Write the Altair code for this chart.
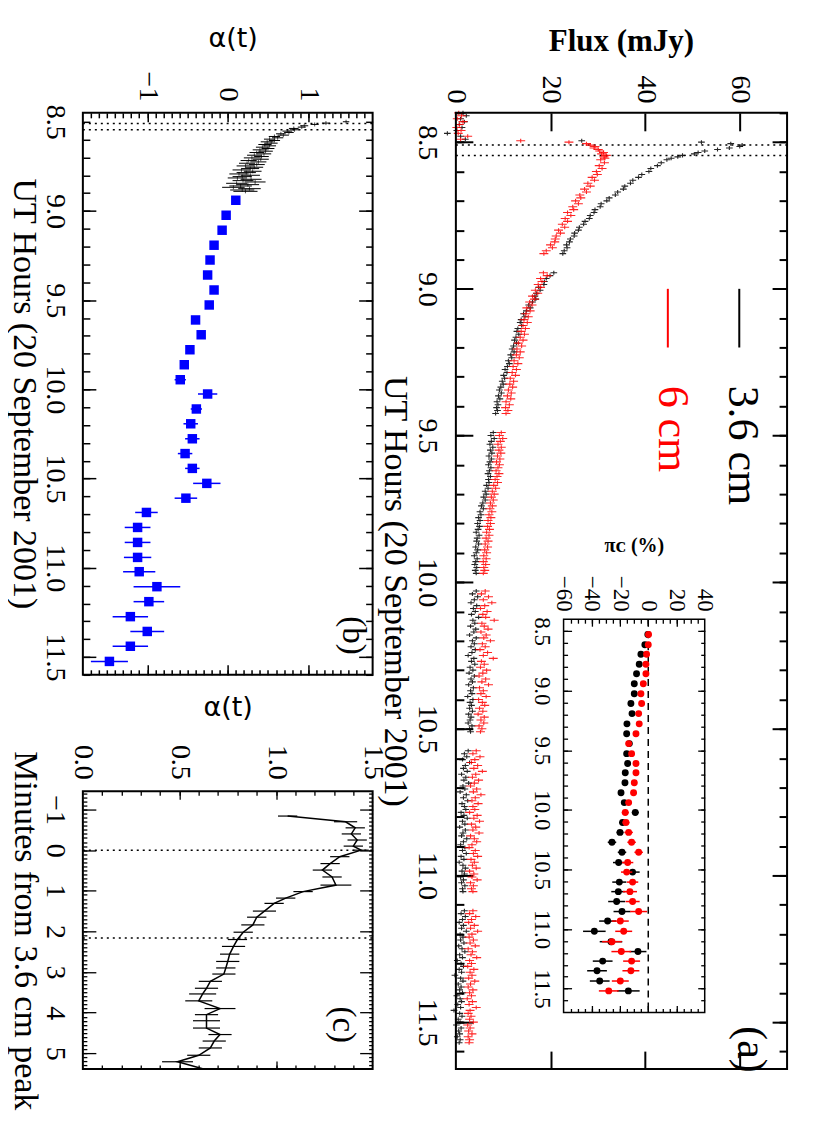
import altair as alt
import pandas as pd

# ======================= DATA =======================
# (a) flux-density light curves (mJy); the quiet segments are sampled every CADENCE hours
CADENCE = 0.01
pre_start = 8.40
flux36_pre = [1.5, 2.2, 1.0, 1.8, 0.7, 1.3, 0.2, -1.8, 1.0]
flux6_pre = [0.6, 1.2, 0.3, 1.5, 0.8, 0.2, 1.1, 0.5, 2.5]

burst_times = [8.490, 8.495, 8.500, 8.505, 8.510, 8.515, 8.520, 8.525, 8.530, 8.535,
               8.540, 8.545, 8.550, 8.555, 8.560, 8.57, 8.58, 8.59, 8.60, 8.61,
               8.62, 8.63, 8.64, 8.65, 8.66, 8.67, 8.68, 8.69, 8.70, 8.71,
               8.72, 8.73, 8.74, 8.75, 8.76, 8.77, 8.78, 8.79, 8.80, 8.81,
               8.82, 8.83, 8.84, 8.85, 8.86, 8.87, 8.88]
flux36_burst = [2.0, 26.6, 51.9, 58.1, 60.5, 60.0, 57.8, 55.3, 52.6, 51.2, 50.4, 47.9, 46.9, 45.5, 44.6,
                43.4, 42.6, 41.2, 40.8, 39.3, 38.6, 37.4, 36.9, 35.7, 35.4, 34.2, 33.7, 32.4, 31.9, 30.7,
                30.5, 29.4, 29.2, 28.4, 28.2, 27.3, 27.0, 26.1, 25.9, 25.1, 25.0, 24.2, 24.0, 23.4, 23.5,
                22.9, 22.6]
flux6_burst = [1.0, 13.7, 23.9, 27.6, 28.4, 29.4, 29.2, 30.1, 30.4, 31.2, 30.8, 31.8, 31.3, 31.5, 30.6,
               31.4, 30.3, 30.9, 29.7, 29.9, 28.8, 29.3, 27.9, 28.4, 27.2, 27.6, 26.2, 26.4, 25.3, 25.9,
               24.7, 24.9, 23.6, 24.3, 23.1, 23.6, 22.5, 23.0, 21.7, 22.1, 21.2, 21.0, 20.9, 20.0, 20.4,
               19.1, 18.6]

seg_starts = [8.945, 9.490, 10.030, 10.575, 11.120]
flux36_segs = [
    [20.7, 19.9, 19.1, 18.7, 18.6, 17.5, 17.8, 17.0, 16.7, 16.9, 16.2, 15.4, 15.7, 14.9, 14.3, 14.6, 13.8,
     13.6, 13.9, 13.1, 12.9, 13.3, 12.7, 12.4, 12.8, 12.2, 11.9, 12.3, 11.6, 11.8, 11.1, 11.3, 10.9, 10.4,
     10.8, 10.1, 10.3, 9.8, 10.0, 9.5, 9.2, 9.6, 9.0, 9.3, 8.7, 8.9, 8.6, 8.8, 8.4],
    [7.9, 7.4, 8.1, 7.5, 7.2, 7.8, 7.3, 7.6, 7.0, 7.5, 7.2, 6.9, 7.4, 7.1, 6.8, 7.3, 6.9, 7.0, 6.5, 6.8,
     6.2, 6.4, 5.9, 6.2, 5.7, 5.4, 5.8, 5.1, 5.3, 4.8, 5.1, 4.6, 5.0, 4.7, 4.3, 4.9, 4.5, 4.4, 4.8, 4.2,
     4.6, 4.3, 3.9, 4.5, 4.2, 4.0, 4.4, 4.1, 4.3],
    [4.3, 3.5, 4.6, 3.9, 3.2, 4.4, 3.7, 4.1, 3.3, 4.8, 3.6, 4.0, 3.1, 4.2, 3.8, 2.9, 4.3, 3.5, 3.9, 3.2,
     4.1, 3.4, 2.6, 3.8, 3.3, 4.0, 3.0, 3.6, 2.8, 3.9, 3.2, 3.5, 2.7, 3.7, 3.1, 3.4, 2.5, 3.6, 3.0, 3.3,
     2.9, 3.5, 2.7, 3.2, 3.0, 2.6, 3.4, 2.9, 3.1],
    [2.6, 1.8, 2.3, 1.4, 2.9, 2.0, 1.6, 2.4, 1.2, 2.1, 1.7, 2.7, 1.5, 1.9, 0.9, 2.2, 1.6, 2.5, 1.3, 1.8,
     2.1, 1.1, 1.7, 2.4, 1.4, 1.9, 0.8, 2.0, 1.5, 1.2, 2.3, 1.6, 1.0, 1.9, 1.4, 2.2, 1.1, 1.7, 0.7, 1.5,
     2.0, 1.3, 1.8, 1.0, 1.6, 1.2, 1.9, 1.4, 1.5],
    [1.8, 1.1, 2.0, 1.4, 0.7, 1.6, 1.2, 2.2, 0.9, 1.5, 1.0, 1.7, 0.6, 1.3, 1.9, 0.8, 1.4, 0.3, 1.1, 1.6,
     0.7, 1.2, -0.2, 1.0, 1.5, 0.5, 1.1, 0.8, 1.4, 0.2, 0.9, 1.2, 0.4, 1.0, -0.4, 0.8, 1.3, 0.5, 0.9, 0.1,
     1.1, 0.6, 0.8, 0.3, 0.9, 0.7],
]
flux6_segs = [
    [18.5, 19.3, 17.9, 18.2, 17.4, 17.9, 16.8, 17.3, 16.2, 16.6, 15.6, 16.1, 15.0, 15.7, 14.8, 15.3, 14.4,
     15.1, 14.2, 14.7, 13.8, 14.5, 13.6, 14.2, 13.2, 13.9, 12.9, 13.6, 12.8, 13.4, 12.3, 13.1, 12.1, 12.8,
     11.9, 12.6, 11.5, 12.2, 11.4, 12.0, 11.1, 11.7, 10.9, 11.6, 10.6, 11.3, 10.5, 11.0, 10.6],
    [9.6, 9.2, 9.9, 9.4, 8.9, 9.6, 9.1, 9.5, 8.8, 9.3, 8.6, 9.2, 8.9, 8.5, 9.1, 8.7, 8.3, 8.8, 8.0, 8.4,
     7.7, 8.1, 7.5, 7.9, 7.3, 7.7, 7.2, 7.6, 7.0, 7.4, 6.8, 7.3, 6.7, 7.1, 6.5, 7.0, 6.4, 6.8, 6.2, 6.7,
     6.1, 6.5, 5.9, 6.4, 5.8, 6.3, 5.9, 6.1, 5.8],
    [6.2, 5.4, 6.9, 5.8, 7.6, 6.1, 5.2, 6.6, 5.7, 6.3, 8.1, 5.5, 6.0, 6.8, 5.3, 6.4, 5.9, 7.3, 5.6, 6.2,
     5.1, 6.7, 5.8, 7.9, 5.4, 6.0, 5.2, 6.5, 5.7, 4.9, 6.3, 5.5, 6.9, 5.0, 5.8, 5.3, 6.4, 4.8, 5.6, 6.1,
     5.0, 5.7, 4.7, 6.0, 5.3, 5.9, 4.9, 5.5, 5.2],
    [4.3, 3.6, 5.1, 4.0, 3.3, 4.6, 3.8, 5.6, 4.2, 3.5, 4.8, 3.9, 3.1, 4.4, 3.7, 5.3, 4.1, 3.4, 4.7, 3.6,
     4.0, 2.9, 4.5, 3.8, 5.0, 3.3, 4.2, 3.6, 4.9, 3.1, 3.9, 4.4, 3.4, 2.8, 4.1, 3.7, 4.6, 3.2, 3.9, 3.5,
     4.3, 2.9, 3.8, 3.4, 4.5, 3.1, 3.7, 3.3, 3.6],
    [3.6, 2.9, 4.2, 3.3, 2.7, 3.9, 3.1, 4.6, 3.4, 2.8, 3.7, 3.0, 4.1, 2.6, 3.5, 3.2, 4.4, 2.9, 3.3, 2.5,
     3.8, 3.0, 3.4, 2.7, 4.0, 3.1, 2.6, 3.6, 2.9, 3.3, 2.4, 3.5, 2.8, 4.3, 3.0, 2.6, 3.2, 2.9, 3.7, 2.5,
     3.0, 2.7, 3.4, 2.6, 2.9, 2.8],
]

# (a) inset: circular polarisation pi_c (%)
pol_times = [8.528, 8.614, 8.694, 8.778, 8.858, 8.942, 9.025, 9.108, 9.192, 9.278, 9.361, 9.444, 9.528,
             9.611, 9.689, 9.772, 9.856, 9.939, 10.022, 10.106, 10.189, 10.272, 10.356, 10.442, 10.522,
             10.606, 10.686, 10.769, 10.853, 10.933, 11.019, 11.106, 11.189, 11.269, 11.350, 11.436, 11.519]
pol36 = [-0.3, -2.4, -5.2, -6.4, -8.3, -9.9, -9.9, -12.3, -11.5, -15.1, -15.3, -13.4, -15.3, -14.6, -16.3,
         -16.5, -19.3, -17.0, -9.2, -18.2, -20.0, -25.7, -18.6, -21.0, -11.1, -20.5, -21.2, -22.4, -18.6,
         -28.8, -38.2, -26.4, -7.3, -32.3, -36.3, -34.4, -14.1]
pol36_err = [1, 1, 1, 1, 1, 1, 1, 1.5, 1.5, 1.5, 1.5, 1.5, 1.5, 2, 2, 2, 2, 2, 2.5, 2.5, 2.5, 3, 3, 4,
             5, 5, 5, 6, 6, 6, 8, 8, 6, 7, 7, 7, 8]
pol6 = [0.2, 0.0, -1.2, -1.65, -1.65, -3.5, -5.2, -4.7, -6.8, -6.4, -8.7, -13.9, -11.8, -8.7, -8.7,
        -9.9, -10.4, -13.9, -16.3, -15.8, -13.9, -11.8, -6.8, -14.6, -15.3, -11.1, -13.0, -11.1, -6.8,
        -19.8, -17.4, -25.7, -19.1, -11.8, -12.3, -19.8, -28.0]
pol6_err = [1, 1, 1, 1, 1, 1, 1, 1, 1.5, 1.5, 1.5, 1.5, 1.5, 2, 2, 2, 2, 2, 2.5, 2.5, 3, 3, 3, 4, 4, 4,
            5, 5, 6, 6, 6, 7, 7, 6, 6, 6, 7]

# (b) spectral index alpha(t): fast (black) and 5-minute averages (blue)
alpha_fast_start = 8.500
alpha_fast_step = 0.0075
alpha_fast = [1.47, 1.22, 1.08, 0.95, 0.92, 0.82, 0.83, 0.74, 0.76, 0.66,
              0.69, 0.58, 0.62, 0.52, 0.58, 0.49, 0.54, 0.46, 0.52, 0.43,
              0.50, 0.40, 0.47, 0.36, 0.45, 0.33, 0.42, 0.30, 0.41, 0.26,
              0.38, 0.24, 0.36, 0.22, 0.33, 0.28, 0.17, 0.31, 0.23, 0.14,
              0.28, 0.18, 0.12, 0.29, 0.19, 0.34, 0.11, 0.25, 0.16, 0.07,
              0.27, 0.18, 0.22]
alpha_fast_err = [0.04, 0.05, 0.05, 0.05, 0.05, 0.06, 0.06, 0.06, 0.06, 0.06,
                  0.07, 0.07, 0.07, 0.07, 0.07, 0.08, 0.08, 0.08, 0.08, 0.08,
                  0.08, 0.09, 0.09, 0.09, 0.09, 0.09, 0.09, 0.10, 0.10, 0.10,
                  0.10, 0.10, 0.10, 0.11, 0.11, 0.11, 0.11, 0.11, 0.12, 0.12,
                  0.12, 0.12, 0.12, 0.13, 0.13, 0.13, 0.13, 0.14, 0.14, 0.14,
                  0.14, 0.15, 0.15]
alpha_slow_times = [8.940, 9.024, 9.108, 9.192, 9.275, 9.359, 9.443, 9.527, 9.611, 9.694, 9.778, 9.862,
                    9.946, 10.026, 10.110, 10.193, 10.277, 10.360, 10.443, 10.527, 10.610, 10.690, 10.774,
                    10.858, 10.942, 11.022, 11.106, 11.190, 11.274, 11.357, 11.440, 11.525]
alpha_slow = [0.10, -0.02, -0.07, -0.17, -0.22, -0.25, -0.17, -0.23, -0.40, -0.33, -0.47, -0.54, -0.59,
              -0.25, -0.39, -0.46, -0.44, -0.53, -0.44, -0.26, -0.52, -1.01, -1.12, -1.12, -1.12, -1.10,
              -0.88, -0.98, -1.21, -1.00, -1.21, -1.47]
alpha_slow_err = [0.03, 0.03, 0.03, 0.03, 0.03, 0.03, 0.05, 0.03, 0.03, 0.03, 0.03, 0.04, 0.07, 0.12,
                  0.07, 0.09, 0.09, 0.09, 0.09, 0.17, 0.14, 0.14, 0.16, 0.16, 0.17, 0.20, 0.29, 0.19,
                  0.22, 0.21, 0.22, 0.23]

# (c) alpha(t) around the 3.6 cm peak
peak_minutes = [-0.84, -0.70, -0.55, -0.40, -0.25, -0.10, 0.00, 0.16, 0.33, 0.49, 0.66, 0.86, 1.02,
                1.18, 1.31, 1.50, 1.65, 1.84, 2.02, 2.20, 2.37, 2.56, 2.74, 2.90, 3.05, 3.23, 3.40,
                3.54, 3.71, 3.90, 4.05, 4.20, 4.38, 4.54, 4.70, 4.87, 5.05, 5.21, 5.38]
peak_alpha = [1.06, 1.36, 1.41, 1.39, 1.42, 1.40, 1.44, 1.33, 1.28, 1.24, 1.29, 1.31, 1.14, 1.05, 0.99,
              0.94, 0.90, 0.88, 0.83, 0.80, 0.78, 0.76, 0.75, 0.74, 0.73, 0.66, 0.64, 0.62, 0.60, 0.71,
              0.64, 0.64, 0.64, 0.71, 0.68, 0.66, 0.60, 0.49, 0.62]
peak_alpha_err = [0.05, 0.06, 0.05, 0.05, 0.05, 0.05, 0.04, 0.05, 0.05, 0.05, 0.05, 0.08, 0.05, 0.05,
                  0.05, 0.06, 0.05, 0.06, 0.05, 0.05, 0.06, 0.05, 0.06, 0.05, 0.06, 0.06, 0.06, 0.07,
                  0.07, 0.08, 0.06, 0.07, 0.07, 0.06, 0.06, 0.06, 0.06, 0.08, 0.07]

# dotted markers: 3.6 cm peak and 6 cm peak
marker_hours = [8.5095, 8.5455]
marker_minutes = [0.0, 2.16]

# ======================= LAYOUT =======================
W, H = 705.5, 958
PA = dict(xd=[0, 70], xr=[373.7, 705.5], yd=[8.4, 11.66], yr=[0, 958])
PB = dict(xd=[-1.8, 1.8], xr=[0, 290.3], yd=[8.45, 11.6], yr=[0, 563])
PC = dict(xd=[0, 1.5], xr=[0, 290.3], yd=[-1.45, 5.39], yr=[679.7, 958])
PI = dict(xd=[-60, 40], xr=[481.6, 623], yd=[8.4, 11.7], yr=[507.3, 901.3])

SERIF = "Liberation Serif"


def S(d, r):
    return alt.Scale(domain=d, range=r, zero=False, nice=False)


def xy(p, xf="x", yf="y", xaxis=None, yaxis=None):
    return dict(x=alt.X(xf, type="quantitative", scale=S(p["xd"], p["xr"]), axis=xaxis),
                y=alt.Y(yf, type="quantitative", scale=S(p["yd"], p["yr"]), axis=yaxis))


def rng(a, b, s):
    n = int(round((b - a) / s))
    return [round(a + s * i, 4) for i in range(n + 1)]


def tick_ax(p, orient, values, L, w):
    if orient == "left":
        off = -(p["xr"][0] + L)
    elif orient == "right":
        off = p["xr"][1] - L - W
    elif orient == "top":
        off = -(p["yr"][0] + L)
    else:
        off = p["yr"][1] - L - H
    return alt.Axis(orient=orient, values=values, offset=off, ticks=True, tickSize=L, tickWidth=w,
                    tickColor="black", labels=False, domain=False, grid=False, title=None)


def dummy(p, xaxis=None, yaxis=None):
    df = pd.DataFrame({"x": [p["xd"][0]], "y": [p["yd"][0]]})
    return alt.Chart(df).mark_point(opacity=0).encode(**xy(p, xaxis=xaxis, yaxis=yaxis))


def frame(p, sw):
    df = pd.DataFrame({"x": [p["xd"][0]], "x2": [p["xd"][1]], "y": [p["yd"][0]], "y2": [p["yd"][1]]})
    return alt.Chart(df).mark_rect(fill="white", fillOpacity=0, stroke="black", strokeWidth=sw).encode(
        **xy(p), x2=alt.X2("x2:Q"), y2=alt.Y2("y2:Q"))


def label_top(p, values, fmt, size, pad, title, tfont, tsize, tweight, tx, ty):
    return alt.Axis(orient="top", offset=-p["yr"][0], values=values, format=fmt, labelAngle=90,
                    labelAlign="right", labelBaseline="middle", labelPadding=pad, labelFont=SERIF,
                    labelFontSize=size, labelColor="black", labelFlush=False, labelOverlap=False,
                    ticks=False, tickSize=0, domain=False, grid=False, title=title, titleFont=tfont,
                    titleFontSize=tsize, titleFontWeight=tweight, titleColor="black", titleAngle=0,
                    titleAlign="center", titleBaseline="middle", titleX=tx, titleY=ty)


def label_left(p, values, fmt, size, pad, title=None, tx=0, ty=0):
    kw = dict(orient="left", offset=-p["xr"][0], values=values, format=fmt, labelAngle=90,
              labelAlign="center", labelBaseline="top", labelPadding=pad, labelFont=SERIF,
              labelFontSize=size, labelColor="black", labelFlush=False, labelOverlap=False,
              ticks=False, tickSize=0, domain=False, grid=False)
    if title:
        kw.update(title=title, titleFont=SERIF, titleFontSize=34, titleFontWeight="normal",
                  titleColor="black", titleAngle=90, titleAlign="center", titleBaseline="middle",
                  titleX=tx, titleY=ty)
    else:
        kw.update(title=None)
    return alt.Axis(**kw)


def axis_layers(p, lx, ly, x_major, x_minor, y_major, y_minor, lt, lb, ll, lr, w):
    # lt/lb/ll/lr = (major length, minor length)
    out = [dummy(p, lx, ly),
           dummy(p, tick_ax(p, "top", x_major, lt[0], w), tick_ax(p, "left", y_major, ll[0], w)),
           dummy(p, tick_ax(p, "bottom", x_major, lb[0], w), tick_ax(p, "right", y_major, lr[0], w))]
    out.append(dummy(p, tick_ax(p, "top", x_minor, lt[1], w) if x_minor else None,
                     tick_ax(p, "left", y_minor, ll[1], w)))
    out.append(dummy(p, tick_ax(p, "bottom", x_minor, lb[1], w) if x_minor else None,
                     tick_ax(p, "right", y_minor, lr[1], w)))
    return out


def text_at(p, x, y, txt, size, color="black", align="center"):
    df = pd.DataFrame({"x": [x], "y": [y]})
    return alt.Chart(df).mark_text(text=txt, angle=90, align=align, baseline="middle", font=SERIF,
                                   fontSize=size, color=color).encode(**xy(p))


# ---------------- build data frames ----------------
def flux_frame(pre, burst, segs):
    t, v = [], []
    t += [round(pre_start + CADENCE * i, 4) for i in range(len(pre))]
    v += pre
    t += burst_times
    v += burst
    for s0, vals in zip(seg_starts, segs):
        t += [round(s0 + CADENCE * i, 4) for i in range(len(vals))]
        v += vals
    return pd.DataFrame({"y": t, "x": v})


df36 = flux_frame(flux36_pre, flux36_burst, flux36_segs)
df6 = flux_frame(flux6_pre, flux6_burst, flux6_segs)

layers = []

# ---------------- panel (a) ----------------
hours_major = rng(8.5, 11.5, 0.5)
layers += axis_layers(
    PA,
    label_top(PA, [0, 20, 40, 60], "d", 28, 10, "Flux (mJy)", SERIF, 31, "bold", 539, -71),
    label_left(PA, hours_major, ".1f", 28, 15, "UT Hours (20 September 2001)", -61.7, 479),
    [20, 40, 60], None, hours_major, rng(8.4, 11.6, 0.1),
    (18, 0), (18, 0), (17, 8), (15, 8), 2)
df_mark_a = pd.DataFrame({"y": marker_hours, "x": [0] * 2, "x2": [70] * 2})
layers.append(alt.Chart(df_mark_a).mark_rule(color="black", strokeWidth=1.5, strokeDash=[2, 4]).encode(
    **xy(PA), x2=alt.X2("x2:Q")))
layers.append(alt.Chart(df36).mark_point(shape="M-1,0L1,0M0,-0.6L0,0.6", size=45, filled=False,
                                         color="black", strokeWidth=1.1, opacity=0.85).encode(**xy(PA)))
layers.append(alt.Chart(df6).mark_point(shape="M-1,0L1,0M0,-0.45L0,0.45", size=80, filled=False,
                                        color="#ff0000", strokeWidth=1.1, opacity=0.85).encode(**xy(PA)))
# legend
leg = pd.DataFrame({"x": [59.9], "y": [9.0], "y2": [9.2]})
layers.append(alt.Chart(leg).mark_rule(color="black", strokeWidth=2).encode(**xy(PA), y2=alt.Y2("y2:Q")))
leg2 = pd.DataFrame({"x": [44.8], "y": [9.0], "y2": [9.2]})
layers.append(alt.Chart(leg2).mark_rule(color="#ff0000", strokeWidth=2).encode(**xy(PA), y2=alt.Y2("y2:Q")))
layers.append(text_at(PA, 60.4, 9.33, "3.6 cm", 44, "black", "left"))
layers.append(text_at(PA, 45.6, 9.33, "6 cm", 44, "#ff0000", "left"))
layers.append(text_at(PA, 62.3, 11.593, "(a)", 42))
layers.append(frame(PA, 2))

# ---------------- inset ----------------
layers.append(frame(PI, 1.5))
layers += axis_layers(
    PI,
    label_top(PI, [-60, -40, -20, 0, 20, 40], "d", 23, 8, "\u03c0\u1d04 (%)", SERIF, 20, "bold", 552, -74.3),
    label_left(PI, hours_major, ".1f", 23, 11),
    [-40, -20, 0, 20], rng(-55, 35, 5), hours_major, rng(8.5, 11.6, 0.1),
    (7, 4), (7, 4), (8, 4), (7, 4), 1.3)
layers.append(alt.Chart(pd.DataFrame({"x": [0], "y": [8.4], "y2": [11.7]})).mark_rule(
    color="black", strokeWidth=1.5, strokeDash=[7, 5]).encode(**xy(PI), y2=alt.Y2("y2:Q")))
dpb = pd.DataFrame({"y": pol_times, "x": pol36,
                    "lo": [a - e for a, e in zip(pol36, pol36_err)],
                    "hi": [a + e for a, e in zip(pol36, pol36_err)]})
dpr = pd.DataFrame({"y": pol_times, "x": pol6,
                    "lo": [a - e for a, e in zip(pol6, pol6_err)],
                    "hi": [a + e for a, e in zip(pol6, pol6_err)]})
for dfp, col in [(dpb, "black"), (dpr, "#ff0000")]:
    layers.append(alt.Chart(dfp).mark_rule(color=col, strokeWidth=1.5).encode(
        **xy(PI, xf="lo"), x2=alt.X2("hi:Q")))
    layers.append(alt.Chart(dfp).mark_circle(color=col, size=48, opacity=1).encode(**xy(PI)))

# ---------------- panel (b) ----------------
layers += axis_layers(
    PB,
    label_top(PB, [-1, 0, 1], "d", 28, 12, "\u03b1(t)", "DejaVu Sans", 27, "normal", 150, -74),
    label_left(PB, hours_major, ".1f", 28, 14, "UT Hours (20 September 2001)", -59.5, 281),
    [-1, 0, 1], rng(-1.7, 1.7, 0.1), rng(9.0, 11.5, 0.5), rng(8.5, 11.6, 0.1),
    (9, 5), (10, 5), (13, 7), (14, 7), 1.5)
df_mark_b = pd.DataFrame({"y": marker_hours, "x": [-1.8] * 2, "x2": [1.8] * 2})
layers.append(alt.Chart(df_mark_b).mark_rule(color="black", strokeWidth=1.5, strokeDash=[2, 4]).encode(
    **xy(PB), x2=alt.X2("x2:Q")))
fast_t = [round(alpha_fast_start + alpha_fast_step * i, 4) for i in range(len(alpha_fast))]
dfa = pd.DataFrame({"y": fast_t, "x": alpha_fast,
                    "lo": [a - e for a, e in zip(alpha_fast, alpha_fast_err)],
                    "hi": [a + e for a, e in zip(alpha_fast, alpha_fast_err)]})
layers.append(alt.Chart(dfa).mark_rule(color="black", strokeWidth=1).encode(**xy(PB, xf="lo"), x2=alt.X2("hi:Q")))
layers.append(alt.Chart(dfa).mark_point(shape="M0,-1L0,1", size=16, filled=False, color="black",
                                        strokeWidth=1).encode(**xy(PB)))
dfs = pd.DataFrame({"y": alpha_slow_times, "x": alpha_slow,
                    "lo": [a - e for a, e in zip(alpha_slow, alpha_slow_err)],
                    "hi": [a + e for a, e in zip(alpha_slow, alpha_slow_err)]})
layers.append(alt.Chart(dfs).mark_rule(color="#0000ff", strokeWidth=1.5).encode(**xy(PB, xf="lo"), x2=alt.X2("hi:Q")))
layers.append(alt.Chart(dfs).mark_square(color="#0000ff", size=90, opacity=1).encode(**xy(PB)))
layers.append(text_at(PB, 1.56, 11.38, "(b)", 33))
layers.append(frame(PB, 2))

# ---------------- panel (c) ----------------
layers += axis_layers(
    PC,
    label_top(PC, [0, 0.5, 1.0, 1.5], ".1f", 28, 12, "\u03b1(t)", "DejaVu Sans", 27, "normal", 145, -83.7),
    label_left(PC, rng(-1, 5, 1), "d", 28, 14, "Minutes from 3.6 cm peak", -58, 819),
    [0.5, 1.0], rng(0.1, 1.4, 0.1), rng(-1, 5, 1), rng(-1.4, 5.3, 0.1),
    (8, 4), (8, 4), (13, 4), (13, 4), 1.3)
df_mark_c = pd.DataFrame({"y": marker_minutes, "x": [0] * 2, "x2": [1.5] * 2})
layers.append(alt.Chart(df_mark_c).mark_rule(color="black", strokeWidth=1.5, strokeDash=[2, 4]).encode(
    **xy(PC), x2=alt.X2("x2:Q")))
dfc = pd.DataFrame({"y": peak_minutes, "x": peak_alpha,
                    "lo": [a - e for a, e in zip(peak_alpha, peak_alpha_err)],
                    "hi": [a + e for a, e in zip(peak_alpha, peak_alpha_err)]})
layers.append(alt.Chart(dfc).mark_rule(color="black", strokeWidth=1.2).encode(**xy(PC, xf="lo"), x2=alt.X2("hi:Q")))
layers.append(alt.Chart(dfc).mark_line(color="black", strokeWidth=1.5).encode(**xy(PC), order=alt.Order("y:Q")))
layers.append(text_at(PC, 1.345, 4.30, "(c)", 33))
layers.append(frame(PC, 2))

chart = alt.layer(*layers).resolve_scale(x="independent", y="independent").properties(
    width=W, height=H,
    autosize=alt.AutoSizeParams(type="none"),
    padding={"left": 75, "top": 104, "right": 35, "bottom": 55},
).configure_view(strokeWidth=0).configure_axis(grid=False)

chart.save("out.html", embed_options={"renderer": "svg", "actions": False})
